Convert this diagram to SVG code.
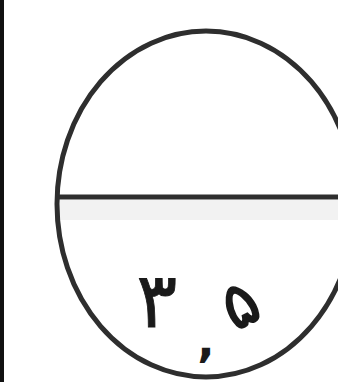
<svg xmlns="http://www.w3.org/2000/svg" width="338" height="382" viewBox="0 0 338 382">
<style>
.ln{fill:none;stroke:#2e2e2e;stroke-width:5}
.t{font-family:"DejaVu Sans","Noto Sans",sans-serif;fill:#1a1a1a;text-anchor:middle}
</style>
<rect width="338" height="382" fill="#fff"/>
<rect x="0" y="0" width="4" height="382" fill="#111"/>
<g id="shape">
<rect x="60" y="200" width="278" height="20" fill="#f2f2f2"/>
<ellipse class="ln" cx="206" cy="204" rx="149" ry="173"/>
<line class="ln" x1="57" y1="197" x2="338" y2="197" stroke-width="5.5"/>
</g>
<g id="label">
<text class="t" x="157" y="327" font-size="76" stroke="#1a1a1a" stroke-width="0.8">۳</text>
<text class="t" x="206" y="356" font-size="46" font-weight="bold">,</text>
<text class="t" x="0" y="0" font-size="64" stroke="#1a1a1a" stroke-width="1.5" transform="translate(250 324) rotate(-28)">۵</text>
</g>
</svg>
